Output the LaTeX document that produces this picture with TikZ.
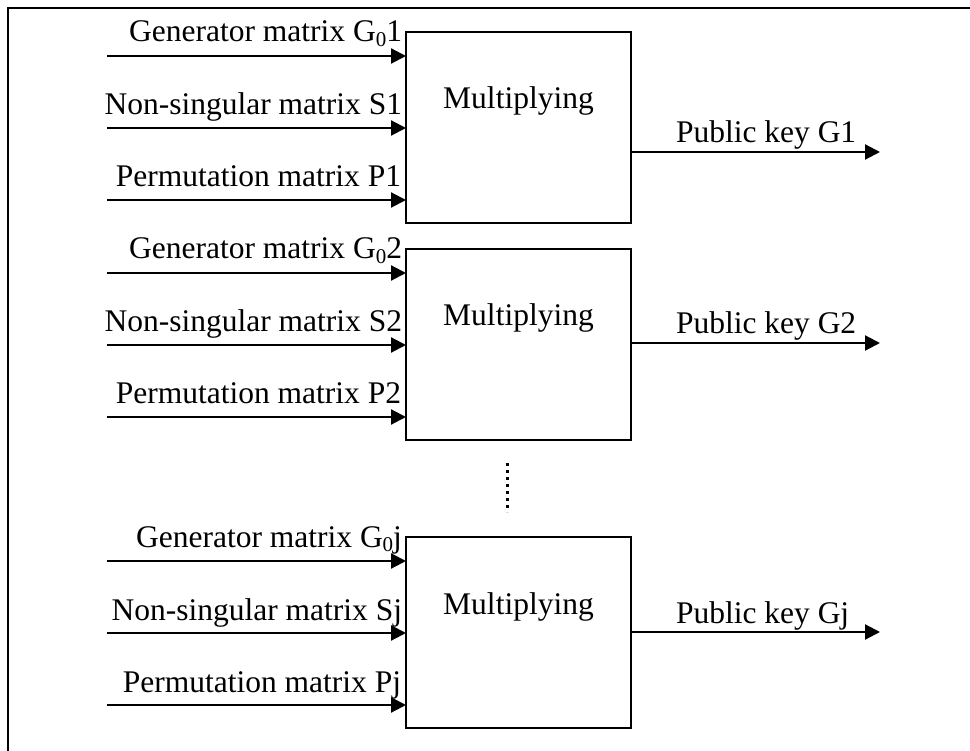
\documentclass[tikz,border=0pt]{standalone}
\usepackage{fontspec}
\setmainfont{Liberation Serif}
\usetikzlibrary{arrows.meta}
% generator matrix name with a lowered, smaller zero
\newcommand\Gzero[1]{G\raisebox{-0.15em}{\fontsize{21}{21}\selectfont 0}#1}
\begin{document}
\begin{tikzpicture}[x=1pt,y=-1pt,
  every node/.style={inner sep=0pt, outer sep=0pt},
  lbl/.style={font=\fontsize{31.5}{36}\selectfont},
  mulbox/.style={draw, line width=2.2pt, minimum width=225pt, minimum height=191pt},
  feed/.style={line width=2.2pt, -{Triangle[length=15pt,width=15pt]}},
  frame/.style={line width=2.5pt},
  dots/.style={line width=3pt, dash pattern=on 3pt off 4pt}]
\useasboundingbox (0,0) rectangle (970,751);
% outer frame (top and left edges)
\draw[frame] (8,751) -- (8,8) -- (970,8);
% one multiplying block per key
\foreach \i/\t/\o/\k in {1/32/152/1,2/249/343/2,3/537/632/j}{
  \node[mulbox, anchor=north west] (m\i) at (406,\t) {};
  \node[lbl, anchor=base] (t\i) at (518.5,\t+77) {Multiplying};
  \coordinate (ga\i) at (107,\t+24);
  \coordinate (sa\i) at (107,\t+96);
  \coordinate (pa\i) at (107,\t+168);
  \draw[feed] (ga\i) -- (m\i.west |- ga\i);
  \draw[feed] (sa\i) -- (m\i.west |- sa\i);
  \draw[feed] (pa\i) -- (m\i.west |- pa\i);
  \node[lbl, anchor=base east] (gl\i) at (402,\t+10) {Generator matrix \Gzero{\k}};
  \node[lbl, anchor=base east] (sl\i) at (402,\t+83) {Non-singular matrix S\k};
  \node[lbl, anchor=base east] (pl\i) at (401,\t+155) {Permutation matrix P\k};
  \coordinate (out\i) at (880,\o);
  \draw[feed] (m\i.east |- out\i) -- (out\i);
  \node[lbl, anchor=base west] (ol\i) at (676,\o-9) {Public key G\k};
}
% vertical ellipsis between the second and last block
\coordinate (d1) at (507,463);
\coordinate (d2) at (507,512);
\draw[dots] (d1) -- (d2);
\end{tikzpicture}
\end{document}
